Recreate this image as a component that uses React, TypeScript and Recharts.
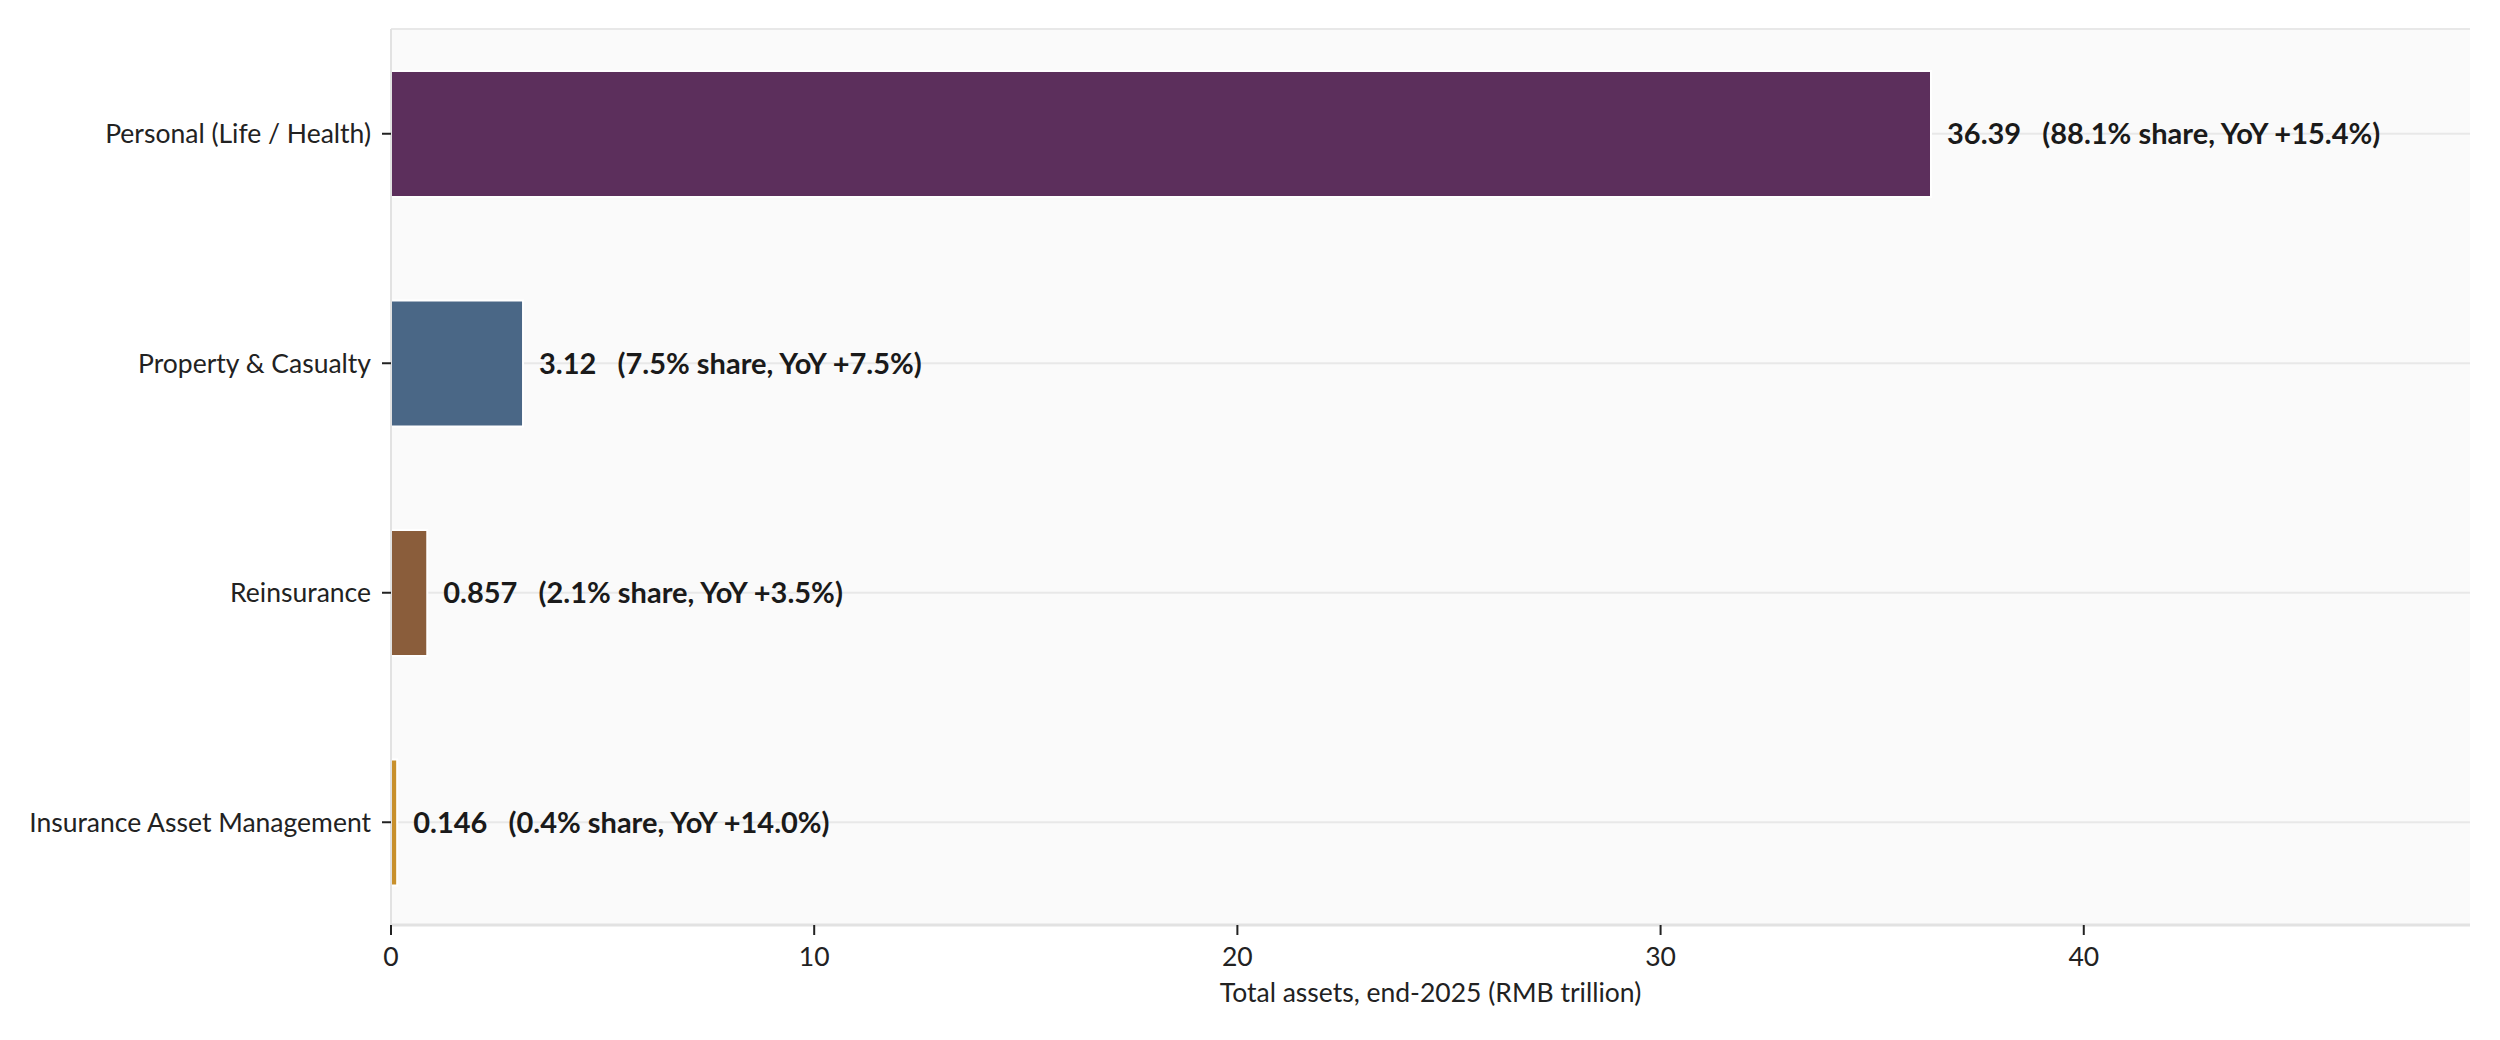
import React from 'react';
import { BarChart, Bar, XAxis, YAxis, CartesianGrid, Cell, LabelList } from 'recharts';

const categories = ['Personal (Life / Health)', 'Property & Casualty', 'Reinsurance', 'Insurance Asset Management'];
const totalAssets = [36.39, 3.12, 0.857, 0.146];
const sharePct = [88.1, 7.5, 2.1, 0.4];
const yoyPct = [15.4, 7.5, 3.5, 14.0];
const xTicks = [0, 10, 20, 30, 40];

const barColors = ['#5c2f5c', '#4a6786', '#8a5d3b', '#c8902c'];
const FONT = 'Lato, "Noto Sans", sans-serif';

const data = categories.map((name, i) => ({
  name,
  value: totalAssets[i],
  share: sharePct[i],
  yoy: yoyPct[i],
}));

const xMax = Math.max(...totalAssets) * 1.35;

function BarValueLabel(props: any) {
  const { x, y, width, height, index } = props;
  const d = data[index];
  const text = `${d.value}   (${d.share.toFixed(1)}% share, YoY +${d.yoy.toFixed(1)}%)`;
  return (
    <text
      x={x + width + 16}
      y={y + height / 2}
      dy="0.36em"
      fontFamily={FONT}
      fontSize={29}
      fontWeight={700}
      fill="#1a1a1a"
      style={{ whiteSpace: 'pre' }}
    >
      {text}
    </text>
  );
}

export default function App() {
  return (
    <div style={{ position: 'absolute', left: 0, top: 0, background: '#fff' }}>
      <BarChart
        width={2500}
        height={1040}
        data={data}
        layout="vertical"
        margin={{ top: 29, right: 30, left: 0, bottom: 0 }}
        style={{ fontFamily: FONT }}
      >
        <CartesianGrid horizontal vertical={false} fill="#fafafa" stroke="#e8e8e8" strokeWidth={2} />
        <XAxis
          type="number"
          domain={[0, xMax]}
          ticks={xTicks}
          height={115}
          axisLine={{ stroke: '#e2e2e2', strokeWidth: 3 }}
          tickLine={{ stroke: '#222', strokeWidth: 2 }}
          tickSize={10}
          tickMargin={12}
          tick={{ fill: '#222', fontSize: 26.5, fontFamily: FONT }}
          label={{ value: 'Total assets, end-2025 (RMB trillion)', position: 'insideBottom', offset: 38, fill: '#222', fontSize: 26.5, fontFamily: FONT }}
        />
        <YAxis
          type="category"
          dataKey="name"
          width={391}
          padding={{ top: -10, bottom: -12 }}
          axisLine={{ stroke: '#e2e2e2', strokeWidth: 2 }}
          tickLine={{ stroke: '#222', strokeWidth: 2 }}
          tickSize={9}
          tickMargin={11}
          tick={{ fill: '#222', fontSize: 26.5, fontFamily: FONT }}
        />
        <Bar dataKey="value" barSize={126} stroke="#ffffff" strokeWidth={2} isAnimationActive={false}>
          {data.map((d, i) => (
            <Cell key={d.name} fill={barColors[i]} />
          ))}
          <LabelList dataKey="value" content={BarValueLabel} />
        </Bar>
      </BarChart>
    </div>
  );
}
